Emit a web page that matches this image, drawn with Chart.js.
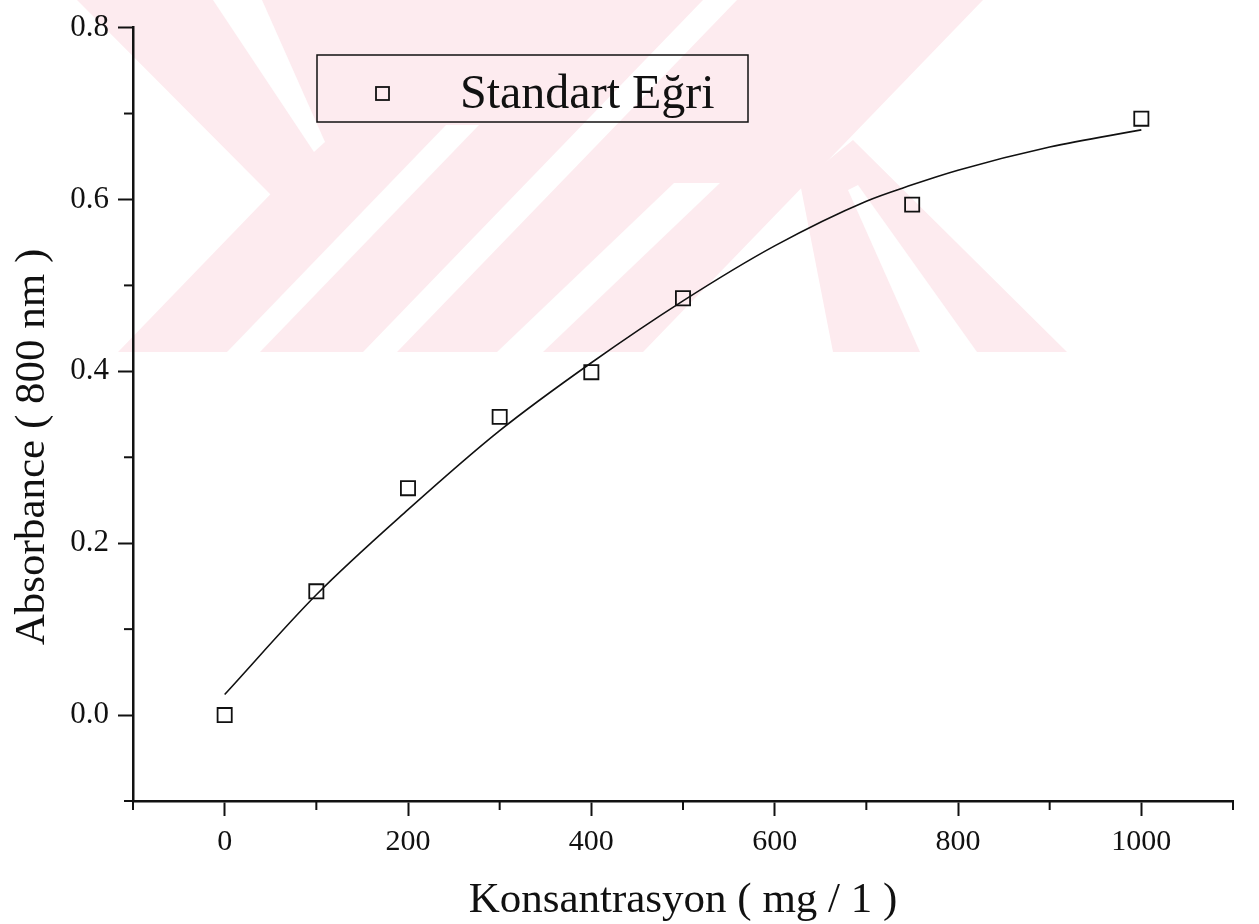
<!DOCTYPE html>
<html>
<head>
<meta charset="utf-8">
<script src="https://cdn.jsdelivr.net/npm/chart.js@4.4.1/dist/chart.umd.min.js"></script>
<style>
  html, body { margin: 0; padding: 0; background: #fff; }
  #wrap { width: 1259px; height: 924px; position: relative; }
</style>
</head>
<body>
<div id="wrap"><canvas id="chart"></canvas></div>
<script>
// measured points
const concentration = [0, 100, 200, 300, 400, 500, 750, 1000];
const absorbance = [0.000, 0.144, 0.264, 0.347, 0.399, 0.485, 0.594, 0.694];

// fitted curve
const fitConc = [0, 100, 200, 300, 400, 500, 600, 700, 750, 800, 900, 1000];
const fitAbs = [0.024, 0.140, 0.239, 0.331, 0.410, 0.482, 0.546, 0.598, 0.617, 0.634, 0.661, 0.681];

// labelled (major) ticks
const xTicks = [0, 200, 400, 600, 800, 1000];
const yTicks = [0.0, 0.2, 0.4, 0.6, 0.8];

const legendLabel = 'Standart Eğri';
const xTitle = 'Konsantrasyon ( mg / 1 )';
const yTitle = 'Absorbance ( 800 nm )';

const FONT = '"Liberation Serif", "Times New Roman", serif';
const INK = '#111';

const isMajorX = v => xTicks.some(t => Math.abs(t - v) < 1e-6);
const isMajorY = v => yTicks.some(t => Math.abs(t - v) < 1e-6);

// faint background stamp of the scanned page
const stampPink = [
  [[77,0],[470,0],[273,197]],
  [[458,0],[703,0],[363,352],[118,352]],
  [[737,0],[983,0],[643,352],[397,352]],
  [[800,183],[853,140],[1067,352],[833,352]]
];
const stampGaps = [
  [[213,0],[262,0],[325,142],[314,152]],
  [[446,125],[479,125],[260,352],[227,352]],
  [[674,183],[720,183],[543,352],[497,352]],
  [[848,190],[858,185],[977,352],[920,352]]
];

const stamp = {
  id: 'stamp',
  beforeDraw(chart) {
    const ctx = chart.ctx;
    ctx.save();
    ctx.beginPath();
    ctx.rect(0, 0, chart.width, 352);
    ctx.clip();
    const poly = (pts, col) => {
      ctx.beginPath();
      pts.forEach((p, i) => i ? ctx.lineTo(p[0], p[1]) : ctx.moveTo(p[0], p[1]));
      ctx.closePath();
      ctx.fillStyle = col;
      ctx.fill();
    };
    stampPink.forEach(p => poly(p, '#fdebef'));
    stampGaps.forEach(p => poly(p, '#ffffff'));
    ctx.restore();
  }
};

const extras = {
  id: 'extras',
  afterDraw(chart) {
    const ctx = chart.ctx;
    const a = chart.chartArea;
    const xs = chart.scales.x, ys = chart.scales.y;
    ctx.save();
    // minor ticks
    ctx.strokeStyle = INK;
    ctx.lineWidth = 2;
    xs.ticks.forEach(t => {
      if (isMajorX(t.value)) return;
      const px = xs.getPixelForValue(t.value);
      ctx.beginPath(); ctx.moveTo(px, a.bottom); ctx.lineTo(px, a.bottom + 9); ctx.stroke();
    });
    ys.ticks.forEach(t => {
      if (isMajorY(t.value)) return;
      const py = ys.getPixelForValue(t.value);
      ctx.beginPath(); ctx.moveTo(a.left, py); ctx.lineTo(a.left - 9, py); ctx.stroke();
    });

    // axis titles
    ctx.fillStyle = INK;
    ctx.font = '43px ' + FONT;
    ctx.textAlign = 'center';
    ctx.textBaseline = 'alphabetic';
    ctx.fillText(xTitle, (a.left + a.right) / 2, 912);
    ctx.save();
    ctx.translate(44, 447);
    ctx.rotate(-Math.PI / 2);
    ctx.font = '43px ' + FONT;
    ctx.fillText(yTitle, 0, 0);
    ctx.restore();

    // legend
    const ds = chart.data.datasets[0];
    ctx.lineWidth = 1.5;
    ctx.strokeRect(317, 55, 431, 67);
    ctx.lineWidth = ds.pointBorderWidth;
    ctx.strokeRect(376, 87, 13, 13);
    ctx.font = '48px ' + FONT;
    ctx.textAlign = 'left';
    ctx.fillText(ds.label, 460, 108);
    ctx.restore();
  }
};

new Chart(document.getElementById('chart'), {
  type: 'scatter',
  data: {
    datasets: [
      {
        label: legendLabel,
        data: concentration.map((x, i) => ({ x, y: absorbance[i] })),
        showLine: false,
        pointStyle: 'rect',
        pointRadius: 10,
        pointBackgroundColor: 'rgba(0,0,0,0)',
        pointBorderColor: INK,
        pointBorderWidth: 1.8
      },
      {
        label: 'fit',
        data: fitConc.map((x, i) => ({ x, y: fitAbs[i] })),
        showLine: true,
        pointRadius: 0,
        borderColor: INK,
        borderWidth: 1.6,
        cubicInterpolationMode: 'monotone',
        fill: false
      }
    ]
  },
  options: {
    responsive: true,
    maintainAspectRatio: false,
    animation: false,
    layout: { padding: { top: 20, right: 26, left: 0, bottom: 0 } },
    plugins: { legend: { display: false }, tooltip: { enabled: false } },
    scales: {
      x: {
        type: 'linear',
        min: -100,
        max: 1100,
        ticks: {
          stepSize: 100,
          autoSkip: false,
          maxRotation: 0,
          color: INK,
          padding: 8,
          font: { family: FONT, size: 30 },
          callback: v => isMajorX(v) ? String(v) : ''
        },
        grid: {
          drawOnChartArea: false,
          drawTicks: true,
          tickLength: 15,
          tickWidth: 2,
          tickColor: c => (c.tick && isMajorX(c.tick.value)) ? INK : 'rgba(0,0,0,0)'
        },
        border: { display: true, color: INK, width: 2.5 },
        afterFit: s => { s.height = 123; }
      },
      y: {
        type: 'linear',
        min: -0.1,
        max: 0.8,
        ticks: {
          stepSize: 0.1,
          autoSkip: false,
          color: INK,
          padding: 9,
          font: { family: FONT, size: 31 },
          callback: v => isMajorY(v) ? v.toFixed(1) : ''
        },
        grid: {
          drawOnChartArea: false,
          drawTicks: true,
          tickLength: 15,
          tickWidth: 2,
          tickColor: c => (c.tick && isMajorY(c.tick.value)) ? INK : 'rgba(0,0,0,0)'
        },
        border: { display: true, color: INK, width: 2.5 },
        afterFit: s => { s.width = 133; }
      }
    }
  },
  plugins: [stamp, extras]
});
</script>
</body>
</html>
